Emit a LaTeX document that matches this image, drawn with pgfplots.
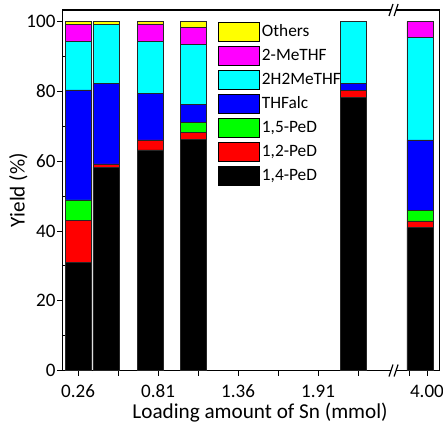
\documentclass[border=0pt]{standalone}
\usepackage{fontspec}
\setmainfont{Carlito}
\usepackage{pgfplots}
\pgfplotsset{compat=1.18}
\definecolor{cBlack}{HTML}{000000}
\definecolor{cRed}{HTML}{FF0000}
\definecolor{cGreen}{HTML}{00FF00}
\definecolor{cBlue}{HTML}{0000FF}
\definecolor{cCyan}{HTML}{00FFFF}
\definecolor{cMag}{HTML}{FF00FF}
\definecolor{cYel}{HTML}{FFFF00}
\begin{document}
\begin{tikzpicture}
\begin{axis}[
  scale only axis,
  width=282.75pt, height=270.4pt,
  ybar stacked,
  bar width=0.179,
  xmin=0.1534, xmax=2.7454,
  ymin=0, ymax=103.3,
  xtick={0.26,0.81,1.36,1.91,2.659},
  xticklabels={0.26,0.81,1.36,1.91,4.00},
  minor xtick={0.535,1.085,1.635,2.185,2.536},
  ytick={0,20,40,60,80,100},
  minor ytick={10,30,50,70,90},
  xtick pos=left, ytick pos=left,
  tick align=outside,
  major tick length=3.8pt,
  minor tick length=3.8pt,
  minor y tick style={xshift=3.8pt},
  tick style={black, line width=0.6pt},
  axis line style={line width=0.8pt},
  /pgf/number format/assume math mode=true,
  tick label style={font=\fontsize{14.3}{16}\selectfont},
  xticklabel style={yshift=-3.5pt},
  yticklabel style={xshift=2pt},
  label style={font=\fontsize{15.9}{18}\selectfont},
  xlabel={Loading amount of Sn (mmol)},
  ylabel={Yield (\%)},
  xlabel style={at={(axis description cs:0.524,-0.1318)}, anchor=base},
  ylabel style={at={(axis description cs:-0.08,0.5)}, anchor=south},
  legend image code/.code={\draw[#1,draw=black,line width=0.5pt] (0pt,-6.9pt) rectangle (30.4pt,6.9pt);},
  reverse legend,
  legend cell align=left,
  legend style={draw=none, fill=none, at={(0.4125,0.966)}, anchor=north west,
    inner sep=0pt, outer sep=0pt,
    font=\fontsize{13}{15}\selectfont, row sep=3.7pt,
    nodes={inner xsep=2pt, inner ysep=0pt}},
  every axis plot/.append style={draw=black!85, line width=0.4pt},
]
\addplot[fill=cBlack] coordinates {(0.26,30.9) (0.452,58.3) (0.755,63.2) (1.051,66.2) (2.154,78.3) (2.611,41.0)};
\addplot[fill=cRed] coordinates {(0.26,12.2) (0.452,0.9) (0.755,2.9) (1.051,2.1) (2.154,1.9) (2.611,1.9)};
\addplot[fill=cGreen] coordinates {(0.26,5.8) (0.452,0) (0.755,0) (1.051,2.7) (2.154,0) (2.611,2.9)};
\addplot[fill=cBlue] coordinates {(0.26,31.5) (0.452,23.1) (0.755,13.2) (1.051,5.2) (2.154,2.1) (2.611,20.3)};
\addplot[fill=cCyan] coordinates {(0.26,13.8) (0.452,16.9) (0.755,15.1) (1.051,17.3) (2.154,17.7) (2.611,29.3)};
\addplot[fill=cMag] coordinates {(0.26,5.0) (0.452,0) (0.755,4.9) (1.051,4.8) (2.154,0) (2.611,4.6)};
\addplot[fill=cYel] coordinates {(0.26,0.8) (0.452,0.8) (0.755,0.7) (1.051,1.7) (2.154,0) (2.611,0)};
\legend{{1,4-PeD},{1,2-PeD},{1,5-PeD},THFalc,2H2MeTHF,2-MeTHF,Others}
\coordinate (brB) at (rel axis cs:0.878,0);
\coordinate (brT) at (rel axis cs:0.878,1);
\end{axis}
% axis break marks
\foreach \p in {brB,brT} {
  \fill[white] (\p) ++(-3.4pt,-4.5pt) -- ++(3.8pt,0pt) -- ++(3pt,9pt) -- ++(-3.8pt,0pt) -- cycle;
  \draw[line width=0.9pt] (\p) ++(-3.4pt,-4.5pt) -- ++(3pt,9pt);
  \draw[line width=0.9pt] (\p) ++(0.4pt,-4.5pt) -- ++(3pt,9pt);
}
\pgfresetboundingbox
\path[use as bounding box] ([shift={(-46.9pt,-42.4pt)}]current axis.south west) rectangle ([shift={(2.6pt,7.5pt)}]current axis.north east);
\end{tikzpicture}
\end{document}
